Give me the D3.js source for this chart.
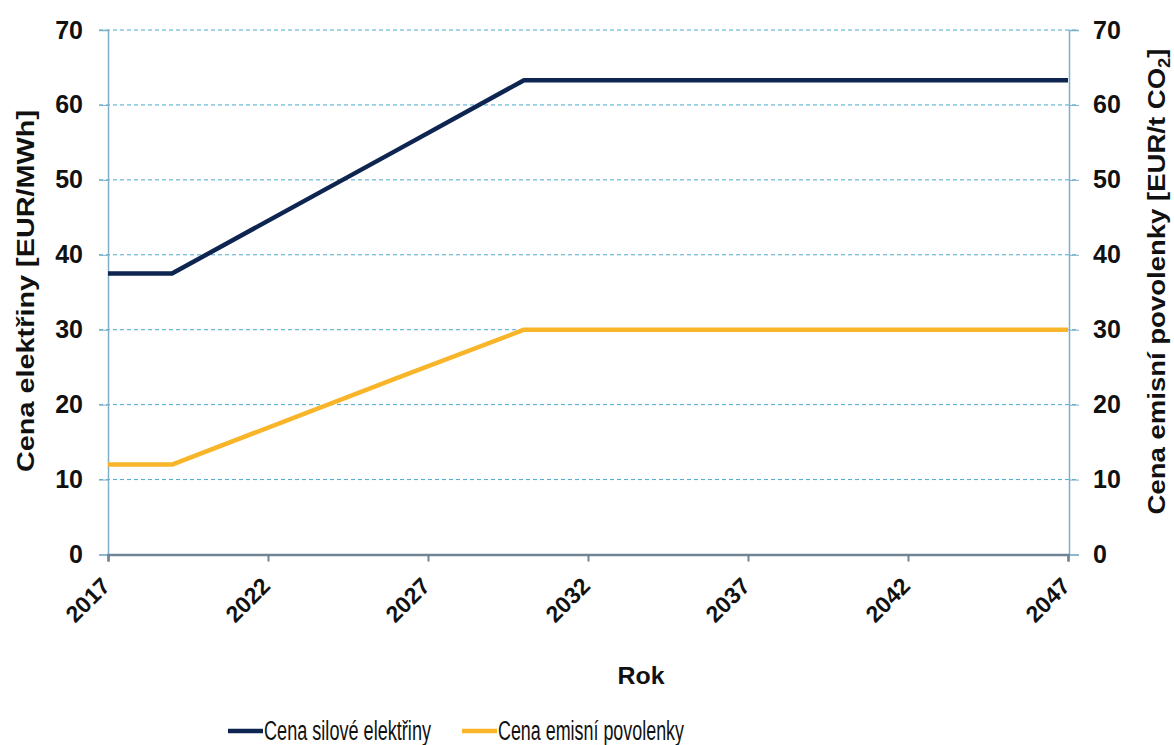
<!DOCTYPE html>
<html>
<head>
<meta charset="utf-8">
<script src="https://cdn.jsdelivr.net/npm/d3@7"></script>
<style>
  html, body { margin: 0; padding: 0; background: #fff; }
  svg { display: block; }
  text { font-family: Arial, "Liberation Sans", sans-serif; fill: #111; }
</style>
</head>
<body>
<svg id="chart" width="1174" height="745"></svg>
<script>
// Price scenario: wholesale electricity vs. emission allowance
const years = [2017, 2019, 2026, 2030, 2047];
const electricityPrice = [37.5, 37.5, 53.9, 63.3, 63.3];   // EUR/MWh
const allowancePrice   = [12, 12, 23.5, 30, 30];           // EUR/t CO2
const xTicks = [2017, 2022, 2027, 2032, 2037, 2042, 2047];
const yTicks = [0, 10, 20, 30, 40, 50, 60, 70];
const seriesNames = ["Cena silové elektřiny", "Cena emisní povolenky"];
const seriesColors = ["#0d2550", "#f9b52a"];

const svg = d3.select("#chart");
const m = { left: 108, right: 1068, top: 30, bottom: 554.5 };

const x = d3.scaleLinear().domain([2017, 2047]).range([m.left, m.right]);
const yL = d3.scaleLinear().domain([0, 70]).range([m.bottom, m.top]);
const yR = d3.scaleLinear().domain([0, 70]).range([m.bottom, m.top]);

const boldFont = "Arial, 'Liberation Sans', sans-serif";
const narrowFont = "'Liberation Sans Narrow', 'Arial Narrow', Arial, sans-serif";

// dashed horizontal gridlines
svg.append("g")
  .selectAll("line")
  .data(yTicks.filter(d => d > 0))
  .join("line")
  .attr("x1", m.left - 9).attr("x2", m.right + 11)
  .attr("y1", d => yL(d)).attr("y2", d => yL(d))
  .attr("stroke", "#4aa8cf").attr("stroke-width", 1)
  .attr("stroke-dasharray", "4,3");

// left value axis
const leftAxis = svg.append("g")
  .attr("transform", `translate(${m.left},0)`)
  .call(d3.axisLeft(yL).tickValues(yTicks).tickSize(9).tickPadding(16).tickFormat(d3.format("d")));
leftAxis.select(".domain").attr("stroke", "#7eaec8").attr("stroke-width", 1.5);
leftAxis.selectAll(".tick line").attr("stroke", "#7eaec8");
leftAxis.selectAll(".tick text")
  .attr("font-size", 25).attr("font-weight", "bold").attr("fill", "#111")
  .style("font-family", boldFont);

// right value axis
const rightAxis = svg.append("g")
  .attr("transform", `translate(${m.right + 1},0)`)
  .call(d3.axisRight(yR).tickValues(yTicks).tickSize(10).tickPadding(14).tickFormat(d3.format("d")));
rightAxis.select(".domain").attr("stroke", "#7eaec8").attr("stroke-width", 1.5);
rightAxis.selectAll(".tick line").attr("stroke", "#7eaec8");
rightAxis.selectAll(".tick text")
  .attr("font-size", 25).attr("font-weight", "bold").attr("fill", "#111")
  .style("font-family", boldFont);

// bottom year axis, labels slanted at 45 degrees
const bottomAxis = svg.append("g")
  .attr("transform", `translate(0,${m.bottom})`)
  .call(d3.axisBottom(x).tickValues(xTicks).tickSize(7).tickFormat(d3.format("d")));
bottomAxis.select(".domain").attr("stroke", "#6f8595").attr("stroke-width", 2.5);
bottomAxis.selectAll(".tick line").attr("stroke", "#6f8595").attr("stroke-width", 2);
bottomAxis.selectAll(".tick text")
  .attr("font-size", 23).attr("font-weight", "bold").attr("fill", "#111")
  .style("font-family", boldFont)
  .attr("text-anchor", "end")
  .attr("x", 0).attr("y", 0).attr("dy", 0)
  .attr("transform", "translate(3,33) rotate(-45)");

// series lines
const line = d3.line().x((d, i) => x(years[i]));
const series = [electricityPrice, allowancePrice];
series.forEach((vals, k) => {
  const yS = k === 0 ? yL : yR;
  svg.append("path")
    .datum(vals)
    .attr("fill", "none")
    .attr("stroke", seriesColors[k])
    .attr("stroke-width", 4.5)
    .attr("stroke-linejoin", "round")
    .attr("d", line.y(d => yS(d)));
});

// axis titles
svg.append("text")
  .attr("transform", `translate(34,291) rotate(-90)`)
  .attr("text-anchor", "middle")
  .attr("font-size", 24).attr("font-weight", "bold")
  .attr("textLength", 362).attr("lengthAdjust", "spacingAndGlyphs")
  .text("Cena elektřiny [EUR/MWh]");

const rTitle = svg.append("text")
  .attr("transform", `translate(1165,${(48 + 515) / 2}) rotate(-90)`)
  .attr("text-anchor", "middle")
  .attr("font-size", 24).attr("font-weight", "bold")
  .attr("textLength", 466).attr("lengthAdjust", "spacingAndGlyphs");
rTitle.append("tspan").text("Cena emisní povolenky [EUR/t CO");
rTitle.append("tspan").attr("font-size", 16).attr("dy", 5).text("2");
rTitle.append("tspan").attr("dy", -5).text("]");

svg.append("text")
  .attr("x", 641).attr("y", 684)
  .attr("text-anchor", "middle")
  .attr("font-size", 23).attr("font-weight", "bold")
  .attr("textLength", 47).attr("lengthAdjust", "spacingAndGlyphs")
  .text("Rok");

// legend
const legendItems = [
  { x0: 228, x1: 263, tx: 264, tw: 167 },
  { x0: 462, x1: 497, tx: 498, tw: 186 }
];
legendItems.forEach((it, k) => {
  svg.append("line")
    .attr("x1", it.x0).attr("x2", it.x1)
    .attr("y1", 731).attr("y2", 731)
    .attr("stroke", seriesColors[k]).attr("stroke-width", 4.5);
  svg.append("text")
    .attr("x", it.tx).attr("y", 740)
    .attr("font-size", 27)
    .style("font-family", narrowFont)
    .attr("textLength", it.tw).attr("lengthAdjust", "spacingAndGlyphs")
    .text(seriesNames[k]);
});
</script>
</body>
</html>
